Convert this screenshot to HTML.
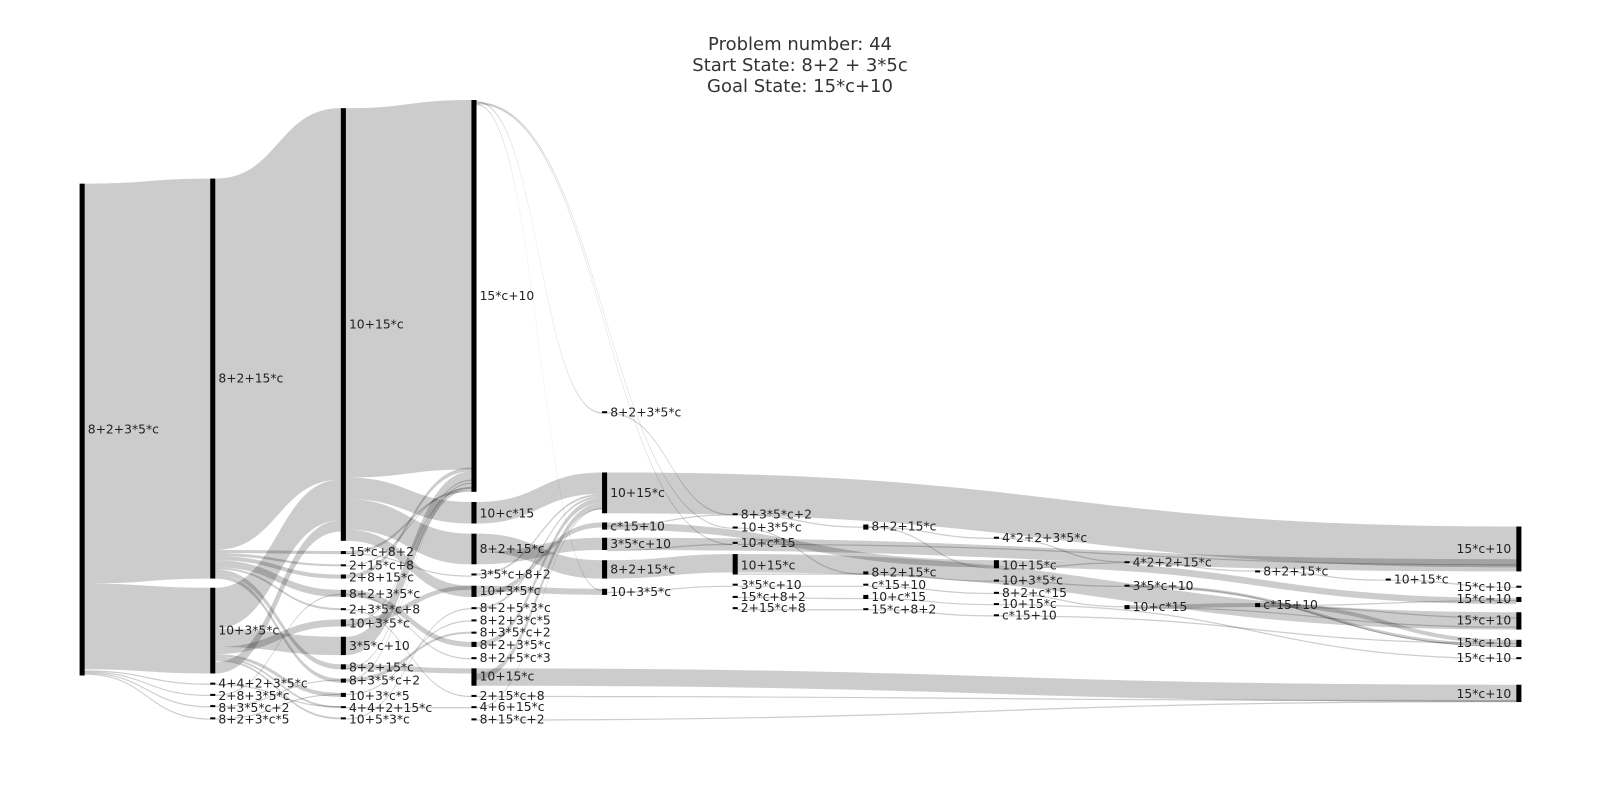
<!DOCTYPE html>
<html><head><meta charset="utf-8"><style>
html,body{margin:0;padding:0;background:#fff;width:1600px;height:800px;overflow:hidden}
svg{display:block}
text{font-family:"DejaVu Sans","Liberation Sans",sans-serif;fill:#222}
.l{font-size:12.1px}
.t{font-size:18px;fill:#333}
</style></head><body>
<svg id="s" width="1600" height="800" viewBox="0 0 1600 800" xmlns="http://www.w3.org/2000/svg">
<text class="t" x="800" y="50" text-anchor="middle">Problem number: 44</text>
<text class="t" x="800" y="71" text-anchor="middle">Start State: 8+2 + 3*5c</text>
<text class="t" x="800" y="92" text-anchor="middle">Goal State: 15*c+10</text>
<g transform="scale(1.0204)">
<g id="links"></g>
<g id="nodes"></g>
<g id="labels">
<text class="l" x="86" y="425">8+2+3*5*c</text>
<text class="l" x="214" y="375">8+2+15*c</text>
<text class="l" x="214" y="622">10+3*5*c</text>
<text class="l" x="214" y="674">4+4+2+3*5*c</text>
<text class="l" x="214" y="686">2+8+3*5*c</text>
<text class="l" x="214" y="698">8+3*5*c+2</text>
<text class="l" x="214" y="709">8+2+3*c*5</text>
<text class="l" x="342" y="322">10+15*c</text>
<text class="l" x="342" y="545">15*c+8+2</text>
<text class="l" x="342" y="558">2+15*c+8</text>
<text class="l" x="342" y="570">2+8+15*c</text>
<text class="l" x="342" y="586">8+2+3*5*c</text>
<text class="l" x="342" y="601">2+3*5*c+8</text>
<text class="l" x="342" y="615">10+3*5*c</text>
<text class="l" x="342" y="637">3*5*c+10</text>
<text class="l" x="342" y="658">8+2+15*c</text>
<text class="l" x="342" y="671">8+3*5*c+2</text>
<text class="l" x="342" y="686">10+3*c*5</text>
<text class="l" x="342" y="698">4+4+2+15*c</text>
<text class="l" x="342" y="709">10+5*3*c</text>
<text class="l" x="470" y="294">15*c+10</text>
<text class="l" x="470" y="507">10+c*15</text>
<text class="l" x="470" y="542">8+2+15*c</text>
<text class="l" x="470" y="567">3*5*c+8+2</text>
<text class="l" x="470" y="583">10+3*5*c</text>
<text class="l" x="470" y="600">8+2+5*3*c</text>
<text class="l" x="470" y="612">8+2+3*c*5</text>
<text class="l" x="470" y="624">8+3*5*c+2</text>
<text class="l" x="470" y="636">8+2+3*5*c</text>
<text class="l" x="470" y="649">8+2+5*c*3</text>
<text class="l" x="470" y="667">10+15*c</text>
<text class="l" x="470" y="686">2+15*c+8</text>
<text class="l" x="470" y="697">4+6+15*c</text>
<text class="l" x="470" y="709">8+15*c+2</text>
<text class="l" x="598" y="408">8+2+3*5*c</text>
<text class="l" x="598" y="487">10+15*c</text>
<text class="l" x="598" y="520">c*15+10</text>
<text class="l" x="598" y="537">3*5*c+10</text>
<text class="l" x="598" y="562">8+2+15*c</text>
<text class="l" x="598" y="584">10+3*5*c</text>
<text class="l" x="726" y="508">8+3*5*c+2</text>
<text class="l" x="726" y="521">10+3*5*c</text>
<text class="l" x="726" y="536">10+c*15</text>
<text class="l" x="726" y="558">10+15*c</text>
<text class="l" x="726" y="577">3*5*c+10</text>
<text class="l" x="726" y="589">15*c+8+2</text>
<text class="l" x="726" y="600">2+15*c+8</text>
<text class="l" x="854" y="520">8+2+15*c</text>
<text class="l" x="854" y="565">8+2+15*c</text>
<text class="l" x="854" y="577">c*15+10</text>
<text class="l" x="854" y="589">10+c*15</text>
<text class="l" x="854" y="601">15*c+8+2</text>
<text class="l" x="982" y="531">4*2+2+3*5*c</text>
<text class="l" x="982" y="558">10+15*c</text>
<text class="l" x="982" y="573">10+3*5*c</text>
<text class="l" x="982" y="585">8+2+c*15</text>
<text class="l" x="982" y="596">10+15*c</text>
<text class="l" x="982" y="607">c*15+10</text>
<text class="l" x="1110" y="555">4*2+2+15*c</text>
<text class="l" x="1110" y="578">3*5*c+10</text>
<text class="l" x="1110" y="599">10+c*15</text>
<text class="l" x="1238" y="564">8+2+15*c</text>
<text class="l" x="1238" y="597">c*15+10</text>
<text class="l" x="1366" y="572">10+15*c</text>
<text class="l" x="1481" y="542" text-anchor="end">15*c+10</text>
<text class="l" x="1481" y="579" text-anchor="end">15*c+10</text>
<text class="l" x="1481" y="591" text-anchor="end">15*c+10</text>
<text class="l" x="1481" y="612" text-anchor="end">15*c+10</text>
<text class="l" x="1481" y="634" text-anchor="end">15*c+10</text>
<text class="l" x="1481" y="649" text-anchor="end">15*c+10</text>
<text class="l" x="1481" y="684" text-anchor="end">15*c+10</text>
</g>
</g>
</svg>
<script>
(function(){
var NS="http://www.w3.org/2000/svg";
var X=function(i){return 78+128*i;},W=5;
var L=document.getElementById("links"),N=document.getElementById("nodes");
function band(a,y0a,y0b,b,y1a,y1b){
 var x0=X(a)+W,x1=X(b),xm=(x0+x1)/2;
 var p=document.createElementNS(NS,"path");
 p.setAttribute("d","M"+x0+","+y0a+"C"+xm+","+y0a+" "+xm+","+y1a+" "+x1+","+y1a+"L"+x1+","+y1b+"C"+xm+","+y1b+" "+xm+","+y0b+" "+x0+","+y0b+"Z");
 p.setAttribute("fill","rgba(0,0,0,0.2)");L.appendChild(p);}
function th(a,y0,b,y1){band(a,y0,y0+1.2,b,y1,y1+1.2);}
var bands=[
[0,180,572,1,175,567],[0,572,656,1,576,660],
[1,175,539,2,106,470],[1,576,616,2,470,510],[1,616,634,2,624,642],[1,634,641,2,607,614],[1,649,660,2,510,521],
[1,539,542,2,540,543],[1,542,545,2,553,555],[1,545,549,2,563,567],[1,549,556,2,578,585],[1,556,558,2,596,598],[1,558,563,2,651,656],[1,563,567,2,665,669],
[1,641,644,2,679,683],[1,644,646,2,692,694],[1,646,648,2,703,705],
[2,106,468,3,98,460],[2,468,489,3,492,513],[2,489,519,3,523,553],[2,519,530,3,574,585],
[2,624,642,3,462,480],[2,540,543,3,480,482],[2,563,567,3,458,462],[2,578,585,3,629,634],[2,607,614,3,574,578],[2,651,656,3,655,660],[2,665,669,3,619,621],
[3,492,513,4,463,484],[3,523,541,4,549,567],[3,541,553,4,527,539],[3,574,580,4,577,583],[3,580,585,4,512,517],
[3,562,564,4,484,486],[3,595,597,4,486,488],[3,629,634,4,488,493],[3,660,666,4,493,499],
[4,463,503,11,516,556],[4,527,539,11,548,560],[4,549,567,5,543,561],[5,543,561,11,600,617],
[3,655,672,11,671,688],[4,512,519,7,549,556],[7,549,556,11,586,592],
[8,593,597,9,591,595],[9,591,595,11,627,631],[8,573,576,11,631,634]
];
bands.forEach(function(b){band.apply(null,b);});
var thins=[
[0,657,1,670],[0,658,1,681],[0,659,1,692],[0,660,1,704],
[1,670,2,692],[1,681,2,582],[1,692,2,666],[1,704,2,680],
[2,680,3,608],[2,693,3,693],[2,704,3,596],[2,597,3,682],[2,554,3,478],[2,582,3,645],[2,542,3,564],[2,612,3,477],[2,655,3,470],[2,666,3,473],
[3,99,4,404],[3,100,5,517],[3,101,5,533],[3,102,4,578],
[4,404,5,504],[5,504,6,516],[6,516,7,527],[7,527,8,550],[8,550,9,559],[9,559,10,568],[10,568,11,575],
[3,682,11,686],[3,705,11,687],[3,693,4,498],
[4,580,5,574],[4,515,5,504],[5,517,6,562],[5,533,11,553],[5,574,6,574],[5,585,6,586],[5,597,6,597],
[6,562,7,569],[6,574,7,581],[6,586,7,592],[6,597,7,603],[6,516,7,556],
[7,569,8,574],[7,581,8,594],[7,592,11,645],[7,603,11,630],[7,557,8,551],
[8,574,11,633],[9,593,11,588],[9,594,11,605],[5,562,6,562],[4,539,5,533],[8,595,11,614]
];
thins.forEach(function(t){th.apply(null,t);});
var nodes=[
[0,180,662],[1,175,567],[1,576,660],[1,669,671],[1,680,682],[1,691,693],[1,703,705],
[2,106,530],[2,540,543],[2,553,555],[2,563,567],[2,578,585],[2,596,598],[2,607,614],[2,624,642],[2,651,656],[2,665,669],[2,679,683],[2,692,694],[2,703,705],
[3,98,482],[3,492,513],[3,523,553],[3,562,564],[3,574,585],[3,595,597],[3,607,609],[3,619,621],[3,629,634],[3,644,646],[3,655,672],[3,681,683],[3,692,694],[3,704,706],
[4,403,405],[4,463,503],[4,512,519],[4,527,539],[4,549,567],[4,577,583],
[5,503,505],[5,516,518],[5,531,533],[5,543,563],[5,572,574],[5,584,586],[5,595,597],
[6,514,519],[6,560,563],[6,572,574],[6,583,587],[6,596,598],
[7,526,528],[7,549,557],[7,568,570],[7,580,582],[7,591,593],[7,602,604],
[8,550,552],[8,573,575],[8,593,597],
[9,559,561],[9,591,595],[10,567,569],
[11,516,560],[11,574,576],[11,585,590],[11,600,617],[11,627,634],[11,644,646],[11,671,688]
];
nodes.forEach(function(n){var r=document.createElementNS(NS,"rect");
 r.setAttribute("x",X(n[0]));r.setAttribute("y",n[1]);r.setAttribute("width",W);r.setAttribute("height",Math.max(2,n[2]-n[1]));
 r.setAttribute("fill","#000");N.appendChild(r);});
})();
</script>
</body></html>
